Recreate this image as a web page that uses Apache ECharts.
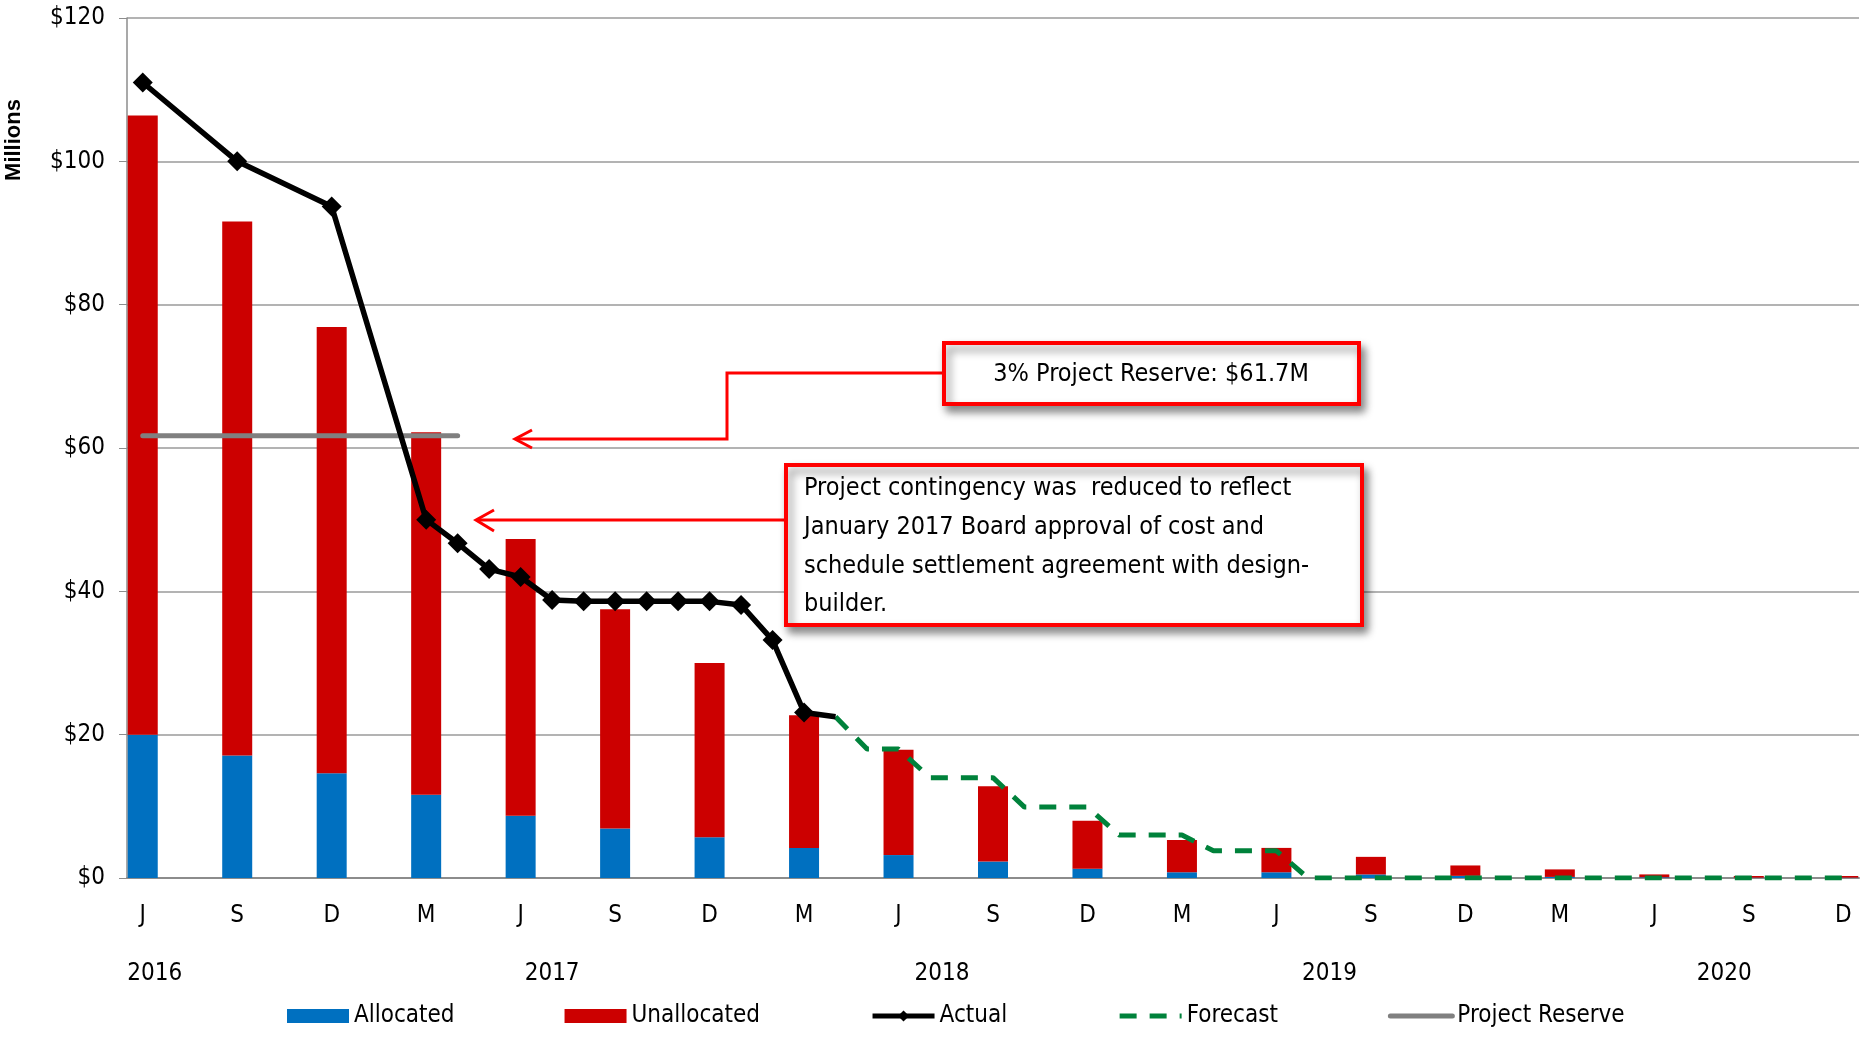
<!DOCTYPE html>
<html>
<head>
<meta charset="utf-8">
<script src="https://cdn.jsdelivr.net/npm/echarts@6/dist/echarts.min.js"></script>
<style>
html,body{margin:0;padding:0;background:#fff;}
#chart{width:1865px;height:1037px;}
</style>
</head>
<body>
<div id="chart"></div>
<script>
// ---- categories (monthly, Jun 2016 .. Dec 2020) ----
var months = [
  'Jun 2016','Jul 2016','Aug 2016','Sep 2016','Oct 2016','Nov 2016','Dec 2016',
  'Jan 2017','Feb 2017','Mar 2017','Apr 2017','May 2017','Jun 2017','Jul 2017','Aug 2017','Sep 2017','Oct 2017','Nov 2017','Dec 2017',
  'Jan 2018','Feb 2018','Mar 2018','Apr 2018','May 2018','Jun 2018','Jul 2018','Aug 2018','Sep 2018','Oct 2018','Nov 2018','Dec 2018',
  'Jan 2019','Feb 2019','Mar 2019','Apr 2019','May 2019','Jun 2019','Jul 2019','Aug 2019','Sep 2019','Oct 2019','Nov 2019','Dec 2019',
  'Jan 2020','Feb 2020','Mar 2020','Apr 2020','May 2020','Jun 2020','Jul 2020','Aug 2020','Sep 2020','Oct 2020','Nov 2020','Dec 2020'
];
// quarterly bars (Jun 2016, Sep 2016, Dec 2016, Mar 2017, ... Dec 2020)
var allocated   = [20.0, 17.1, 14.6, 11.6, 8.7, 6.9, 5.7, 4.2, 3.2, 2.3, 1.3, 0.8, 0.8, 0.5, 0.3, 0.15, 0.1, 0.05, 0.05];
var unallocated = [86.4, 74.5, 62.3, 50.6, 38.6, 30.6, 24.3, 18.5, 14.7, 10.5, 6.7, 4.5, 3.4, 2.45, 1.45, 1.05, 0.4, 0.23, 0.23];
// monthly actual (null = no point)
var actual = [111.0, null, null, 100.0, null, null, 93.7, null, null,
  50.0, 46.7, 43.1, 42.0, 38.8, 38.6, 38.6, 38.6, 38.6, 38.6, 38.1, 33.2, 23.1, 22.5];
// forecast starting Apr 2018
var forecastStart = 'Apr 2018';
var forecast = [22.5, 18, 18, 14, 14, 14, 9.9, 9.9, 9.9, 6, 6, 6, 3.8, 3.8, 3.8,
  0, 0, 0, 0, 0, 0, 0, 0, 0, 0, 0, 0, 0, 0, 0, 0, 0, 0];
// project reserve line (Jun 2016 .. Apr 2017)
var reserve = [61.7, 61.7, 61.7, 61.7, 61.7, 61.7, 61.7, 61.7, 61.7, 61.7, 61.7];
var yTicks = [0, 20, 40, 60, 80, 100, 120];
var yearLabels = {'Jun 2016':'2016', 'Jul 2017':'2017', 'Jul 2018':'2018', 'Aug 2019':'2019', 'Aug 2020':'2020'};
var yearNudge  = {'2016':'r', '2017':'c', '2018':'r', '2019':'l', '2020':'s'};

// ---- build series arrays ----
function sparseQuarterly(arr){
  var out = months.map(function(){return null;});
  arr.forEach(function(v,i){ out[i*3] = v; });
  return out;
}
var allocData = sparseQuarterly(allocated);
var unallocData = sparseQuarterly(unallocated);
var actualData = months.map(function(m,i){ return i < actual.length ? actual[i] : null; });
var fStart = months.indexOf(forecastStart);
var forecastData = months.map(function(m,i){ return (i >= fStart && i - fStart < forecast.length) ? forecast[i - fStart] : null; });
var reserveData = months.map(function(m,i){ return i < reserve.length ? reserve[i] : null; });

var FONT = "'Liberation Sans Narrow','Arial Narrow','DejaVu Sans Condensed','Liberation Sans',sans-serif";
var RED = '#FF0000';
var yrBase = {fontSize: 24, color: '#000', fontFamily: FONT};

var chart = echarts.init(document.getElementById('chart'));
chart.setOption({
  animation: false,
  backgroundColor: '#fff',
  textStyle: {fontFamily: FONT},
  grid: {left: 127, right: 6, top: 18, bottom: 159, containLabel: false},
  legend: {
    left: 282, top: 999, itemWidth: 62, itemHeight: 14, itemGap: 110,
    textStyle: {fontSize: 24, color: '#000', fontFamily: FONT},
    data: [
      {name: 'Allocated', icon: 'rect'},
      {name: 'Unallocated', icon: 'rect'},
      {name: 'Actual', lineStyle: {width: 5, color: '#000'}},
      {name: 'Forecast', itemStyle: {color: 'rgba(0,0,0,0)', opacity: 0}, lineStyle: {width: 5, type: [17, 13], color: '#00823B'}},
      {name: 'Project Reserve', itemStyle: {color: 'rgba(0,0,0,0)', opacity: 0}, lineStyle: {width: 5, color: '#808080'}}
    ]
  },
  xAxis: [{
    type: 'category', data: months, boundaryGap: true,
    axisLine: {lineStyle: {color: '#8c8c8c', width: 2}},
    axisTick: {interval: 2, length: 10, lineStyle: {color: '#8c8c8c', width: 2}},
    axisLabel: {interval: 2, margin: 26, fontSize: 24, color: '#000', fontFamily: FONT,
      formatter: function(v){ return v.charAt(0); }},
    splitLine: {show: false}
  }, {
    type: 'category', data: months, boundaryGap: true, position: 'bottom',
    axisLine: {show: false}, axisTick: {show: false},
    axisLabel: {margin: 84, fontSize: 24, color: '#000', fontFamily: FONT,
      interval: function(i, v){ return yearLabels[v] !== undefined; },
      formatter: function(v){ var y = yearLabels[v]; return y ? '{' + yearNudge[y] + '|' + y + '}' : ''; },
      rich: {
        r: Object.assign({padding: [0, 0, 0, 24]}, yrBase),
        c: Object.assign({}, yrBase),
        l: Object.assign({padding: [0, 20, 0, 0]}, yrBase),
        s: Object.assign({padding: [0, 0, 0, 14]}, yrBase)
      }}
  }],
  yAxis: {
    type: 'value', min: 0, max: 120, interval: 20,
    axisLine: {show: true, lineStyle: {color: '#8c8c8c', width: 1.5}},
    axisTick: {show: true, length: 8, lineStyle: {color: '#8c8c8c'}},
    axisLabel: {margin: 22, fontSize: 24, color: '#000', fontFamily: FONT,
      formatter: function(v){ return '$' + v; }},
    splitLine: {lineStyle: {color: '#9a9a9a', width: 1.5}}
  },
  series: [
    {name: 'Allocated', type: 'bar', stack: 'b', data: allocData, barWidth: 30,
      itemStyle: {color: '#0070C0'}, z: 2},
    {name: 'Unallocated', type: 'bar', stack: 'b', data: unallocData, barWidth: 30,
      itemStyle: {color: '#CC0000'}, z: 2},
    {name: 'Project Reserve', type: 'line', data: reserveData, symbol: 'none',
      lineStyle: {color: '#808080', width: 5, cap: 'round'}, itemStyle: {color: '#808080'}, z: 3},
    {name: 'Forecast', type: 'line', data: forecastData, symbol: 'none',
      lineStyle: {color: '#00823B', width: 5, type: [17, 13]}, itemStyle: {color: '#00823B'}, z: 4},
    {name: 'Actual', type: 'line', data: actualData, connectNulls: true,
      symbol: 'diamond',
      symbolSize: function(v, p){ return p.dataIndex === actual.length - 1 ? 0 : 20; },
      lineStyle: {color: '#000', width: 5.5}, itemStyle: {color: '#000'}, z: 5}
  ],
  graphic: [
    {type: 'text', x: 14, y: 140, rotation: Math.PI / 2, z: 50,
      style: {text: 'Millions', fontSize: 22, fontWeight: 'bold', fontFamily: "'Liberation Sans',sans-serif",
        fill: '#000', align: 'center', verticalAlign: 'middle', textAlign: 'center', textVerticalAlign: 'middle'}},
    // arrow 1
    {type: 'polyline', z: 90, shape: {points: [[943, 373], [727, 373], [727, 439], [516, 439]]},
      style: {stroke: RED, lineWidth: 3, fill: null}},
    {type: 'polyline', z: 90, shape: {points: [[532, 430], [515, 439], [532, 448]]},
      style: {stroke: RED, lineWidth: 3, fill: null}},
    // arrow 2
    {type: 'polyline', z: 90, shape: {points: [[785, 520], [477, 520]]},
      style: {stroke: RED, lineWidth: 3, fill: null}},
    {type: 'polyline', z: 90, shape: {points: [[494, 510], [476, 520], [494, 531]]},
      style: {stroke: RED, lineWidth: 3, fill: null}},
    // box 1
    {type: 'rect', z: 100, shape: {x: 944, y: 343, width: 415, height: 61},
      style: {fill: '#fff', stroke: RED, lineWidth: 4, shadowBlur: 8, shadowOffsetX: 4, shadowOffsetY: 6, shadowColor: 'rgba(0,0,0,0.45)'}},
    {type: 'text', z: 101, x: 1151, y: 374,
      style: {text: '3% Project Reserve: $61.7M', fontSize: 25, fontFamily: FONT, fill: '#000',
        align: 'center', verticalAlign: 'middle', textAlign: 'center', textVerticalAlign: 'middle'}},
    // box 2
    {type: 'rect', z: 100, shape: {x: 786, y: 465, width: 576, height: 160},
      style: {fill: '#fff', stroke: RED, lineWidth: 4, shadowBlur: 8, shadowOffsetX: 4, shadowOffsetY: 6, shadowColor: 'rgba(0,0,0,0.45)'}},
    {type: 'text', z: 101, x: 804, y: 469,
      style: {text: 'Project contingency was  reduced to reflect\nJanuary 2017 Board approval of cost and\nschedule settlement agreement with design-\nbuilder.',
        fontSize: 25, lineHeight: 38.8, fontFamily: FONT, fill: '#000',
        align: 'left', verticalAlign: 'top', textAlign: 'left', textVerticalAlign: 'top'}}
  ]
});
</script>
</body>
</html>
